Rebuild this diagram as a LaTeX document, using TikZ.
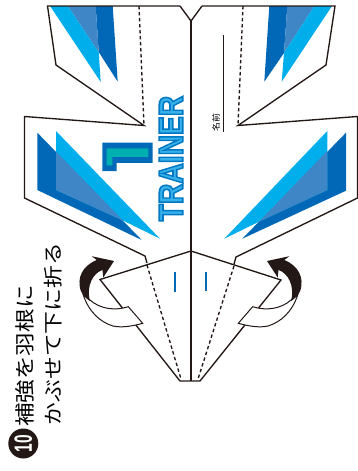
\documentclass[tikz,border=0pt]{standalone}
\usepackage{fontspec}
\usepackage{graphicx}
\setmainfont{Liberation Sans}
\newfontfamily\cjk{Noto Sans CJK JP}
\font\onefont="Poppins/B:embolden=7" at 63pt
\font\trfont="Liberation Sans/B:embolden=5" at 34pt
\definecolor{ink}{HTML}{231815}
\definecolor{dkblue}{HTML}{0068B7}
\definecolor{ltblue}{HTML}{00AEEB}
\definecolor{mdblue}{HTML}{3E86C6}
\definecolor{teal1}{HTML}{00AFB0}
\definecolor{trfill}{HTML}{38B0EA}
\newcommand{\foldarrow}{%
  \path[fill=white,draw=ink,line width=1pt,line join=miter]
    (128.3,306.7) .. controls (115,311) and (100,309) .. (90,300)
    -- (83.3,295) .. controls (89,312) and (100,322) .. (113,326)
    .. controls (122,328) and (133,326) .. (142.7,323.3) -- cycle;
  \path[fill=ink]
    (90,301) .. controls (85,298) and (82,294) .. (80.5,290)
    .. controls (77,278) and (82,266) .. (96.7,260)
    -- (91.7,256.2) -- (114,261) -- (103.3,277.5) -- (102.5,270)
    .. controls (93,273) and (86,286) .. (90,301) -- cycle;
}
\tikzset{
  edge/.style={draw=ink,line width=1.35pt,line join=miter},
  foldline/.style={draw=ink,line width=1.35pt,dash pattern=on 3.4pt off 2.6pt},
  tick/.style={draw=dkblue,line width=1.4pt},
  label/.style={inner sep=0pt,text=black,rotate=90},
}
\begin{document}
\begin{tikzpicture}[x=1pt,y=-1pt]
\useasboundingbox (0,0) rectangle (358,471);
% blue panels, upper left
\fill[ltblue] (50,6) -- (68,6) -- (98.7,52) -- (100.7,82) -- cycle;
\fill[dkblue] (95.7,6) -- (112.7,6) -- (117.7,81.7) -- (98.7,52) -- cycle;
\fill[mdblue] (68,6) -- (95.7,6) -- (98.7,52) -- cycle;
% upper right
\fill[dkblue] (269.3,6) -- (287.3,6) -- (284,53) -- (264.3,81.7) -- cycle;
\fill[mdblue] (287.3,6) -- (314.3,6) -- (284,53) -- cycle;
\fill[ltblue] (314.3,6) -- (332,6) -- (281.7,81.7) -- (284,53) -- cycle;
% lower left
\fill[dkblue] (37.3,132.7) -- (37.3,190) -- (141.7,240) -- cycle;
\fill[ltblue] (56,131) -- (160,238.7) -- (123.3,220.7) -- (56,190) -- cycle;
\fill[mdblue] (56,151.5) -- (123.3,220.7) -- (56,190) -- cycle;
% lower right
\fill[dkblue] (346,132.7) -- (346,190.7) -- (242.3,238.7) -- cycle;
\fill[ltblue] (327.3,131) -- (327.3,190) -- (259,221.7) -- (224.3,238.7) -- cycle;
\fill[mdblue] (327.3,150.7) -- (327.3,190) -- (259,221.7) -- cycle;
% outline of the plane
\draw[edge] (180,6) -- (47.5,6) -- (56,65) -- (144,125.5) -- (24.5,116.5) -- (24.5,198)
  -- (145,256) -- (147,263);
\draw[edge] (202,6) -- (335,6) -- (326,65) -- (238,125.5) -- (357.5,116.5) -- (357.5,198)
  -- (236,257) -- (234,264);
\draw[edge] (180,6) -- (191,21) -- (202,6);
\draw[edge] (191,21) -- (191,381);
\draw[edge] (191,251) -- (100,279.5) -- (180,381) -- (200,381) -- (281,280) -- cycle;
% fold lines
\draw[foldline] (139,6) -- (144,125.5);
\draw[foldline] (243,6) -- (238,125.5);
\draw[foldline] (147,265) -- (181,379);
\draw[foldline] (234,266) -- (198,379);
% ticks
\draw[tick] (175,272) -- (175,292);
\draw[tick] (206,272) -- (206,291);
% name line
\draw[draw=ink,line width=0.8pt] (223.3,35) -- (223.3,132);
% arrows
\foldarrow
\begin{scope}[xshift=381pt,xscale=-1]
\foldarrow
\end{scope}
% texts
\node[label] (name) at (216,122) {\scalebox{1}[0.9]{\cjk\fontsize{9}{9}\selectfont 名前}};
\node[label] (one) at (127.5,155) {\scalebox{1.3}[1]{\onefont\textcolor{teal1}{\special{pdf:code 0 0.41 0.72 RG}1}}};
\node[label] (trainer) at (171,158.5) {\scalebox{0.83}[1]{\trfont\textcolor{trfill}{\special{pdf:code 0 0.47 0.77 RG}TRAINER}}};
\node[label] (line1) at (25,356) {\scalebox{1}[0.85]{\cjk\fontsize{23.6}{24}\selectfont 補強を羽根に}};
\node[label] (line2) at (52.7,334) {\scalebox{1}[0.85]{\cjk\fontsize{22.8}{24}\selectfont かぶせて下に折る}};
\node[circle,fill=ink,minimum size=30pt,inner sep=0pt,text=white,rotate=90] (num) at (23.3,443.5)
  {\scalebox{0.62}[1]{\bfseries\fontsize{25}{25}\selectfont 10}};
\end{tikzpicture}
\end{document}
